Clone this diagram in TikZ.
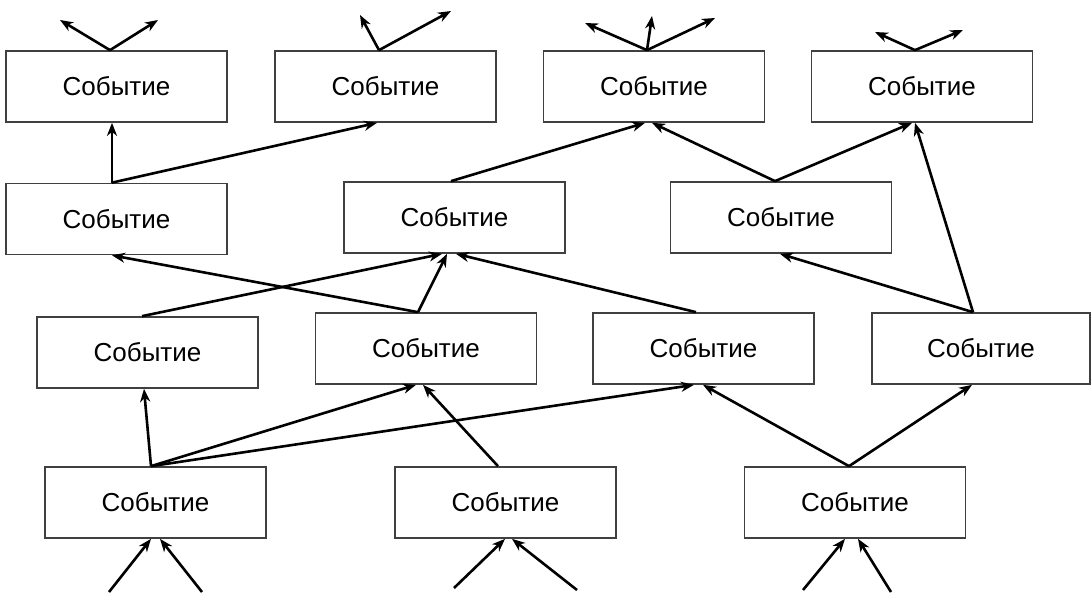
\documentclass[tikz,border=0pt]{standalone}
\usepackage{fontspec}
\setmainfont{Liberation Sans}
\usetikzlibrary{arrows.meta}
\begin{document}
\begin{tikzpicture}[x=1pt,y=-1pt,
  box/.style={draw=black!75, line width=1.7pt, minimum width=221pt, minimum height=71pt, inner sep=0pt, font=\fontsize{26}{30}\selectfont},
  arr/.style={-{Stealth[length=13pt,width=10pt,inset=4pt]}, line width=2.6pt}]
\useasboundingbox (0,0) rectangle (1091,594);
% row A
\node[box] (A1) at (116.5,86.5) {Событие};
\node[box] (A2) at (385.5,86.5) {Событие};
\node[box] (A3) at (654,86.5) {Событие};
\node[box] (A4) at (922,86.5) {Событие};
% row B
\node[box] (B1) at (116.5,219) {Событие};
\node[box] (B2) at (454.5,217.5) {Событие};
\node[box] (B3) at (781,217.5) {Событие};
% row C
\node[box] (C1) at (147.5,352.5) {Событие};
\node[box] (C2) at (426,348.5) {Событие};
\node[box] (C3) at (703.5,348.5) {Событие};
\node[box, minimum width=218pt] (C4) at (981,348.5) {Событие};
% row D
\node[box] (D1) at (155.5,502.5) {Событие};
\node[box] (D2) at (505.5,502.5) {Событие};
\node[box] (D3) at (855,502.5) {Событие};
% free ends
\coordinate (a1l) at (60,20);
\coordinate (a1r) at (158,20);
\coordinate (a2l) at (360,15);
\coordinate (a2r) at (451,11);
\coordinate (a3l) at (585,23);
\coordinate (a3m) at (652,16);
\coordinate (a3r) at (715,18);
\coordinate (a4l) at (875,32);
\coordinate (a4r) at (963,30);
\coordinate (d1l) at (109,592);
\coordinate (d1r) at (202,592);
\coordinate (d2l) at (454,588);
\coordinate (d2r) at (577,590);
\coordinate (d3l) at (803,590);
\coordinate (d3r) at (891,592);
% outgoing from top row
\draw[arr] ([xshift=-6.5pt]A1.north) -- (a1l);
\draw[arr] ([xshift=-6.5pt]A1.north) -- (a1r);
\draw[arr] ([xshift=-6.5pt]A2.north) -- (a2l);
\draw[arr] ([xshift=-6.5pt]A2.north) -- (a2r);
\draw[arr] ([xshift=-7pt]A3.north) -- (a3l);
\draw[arr] ([xshift=-7pt]A3.north) -- (a3m);
\draw[arr] ([xshift=-7pt]A3.north) -- (a3r);
\draw[arr] ([xshift=-7pt]A4.north) -- (a4l);
\draw[arr] ([xshift=-7pt]A4.north) -- (a4r);
% B -> A
\draw[arr] ([xshift=-4.5pt]B1.north) -- ([xshift=-4.5pt]A1.south);
\draw[arr] ([xshift=-4.5pt]B1.north) -- ([xshift=-8.5pt]A2.south);
\draw[arr] ([xshift=-3.5pt]B2.north) -- ([xshift=-9pt]A3.south);
\draw[arr] ([xshift=-6pt]B3.north) -- ([xshift=-2pt]A3.south);
\draw[arr] ([xshift=-6pt]B3.north) -- ([xshift=-10pt]A4.south);
\draw[arr] ([xshift=-8pt]C4.north) -- ([xshift=-7pt]A4.south);
% C -> B
\draw[arr] ([xshift=-5.5pt]C1.north) -- ([xshift=-12.5pt]B2.south);
\draw[arr] ([xshift=-8pt]C2.north) -- ([xshift=-4.5pt]B1.south);
\draw[arr] ([xshift=-8pt]C2.north) -- ([xshift=-7.5pt]B2.south);
\draw[arr] ([xshift=-7.5pt]C3.north) -- ([xshift=1.5pt]B2.south);
\draw[arr] ([xshift=-8pt]C4.north) -- ([xshift=-1pt]B3.south);
% D -> C
\draw[arr] ([xshift=-4.5pt]D1.north) -- ([xshift=-3.5pt]C1.south);
\draw[arr] ([xshift=-4.5pt]D1.north) -- ([xshift=-10pt]C2.south);
\draw[arr] ([xshift=-4.5pt]D1.north) -- ([xshift=-9.5pt]C3.south);
\draw[arr] ([xshift=-7.5pt]D2.north) -- ([xshift=-3pt]C2.south);
\draw[arr] ([xshift=-6pt]D3.north) -- ([xshift=-0.5pt]C3.south);
\draw[arr] ([xshift=-6pt]D3.north) -- ([xshift=-9pt]C4.south);
% incoming at bottom
\draw[arr] (d1l) -- ([xshift=-4.5pt]D1.south);
\draw[arr] (d1r) -- ([xshift=4.5pt]D1.south);
\draw[arr] (d2l) -- ([xshift=-0.5pt]D2.south);
\draw[arr] (d2r) -- ([xshift=6.5pt]D2.south);
\draw[arr] (d3l) -- ([xshift=-10pt]D3.south);
\draw[arr] (d3r) -- ([xshift=3pt]D3.south);
\end{tikzpicture}
\end{document}
